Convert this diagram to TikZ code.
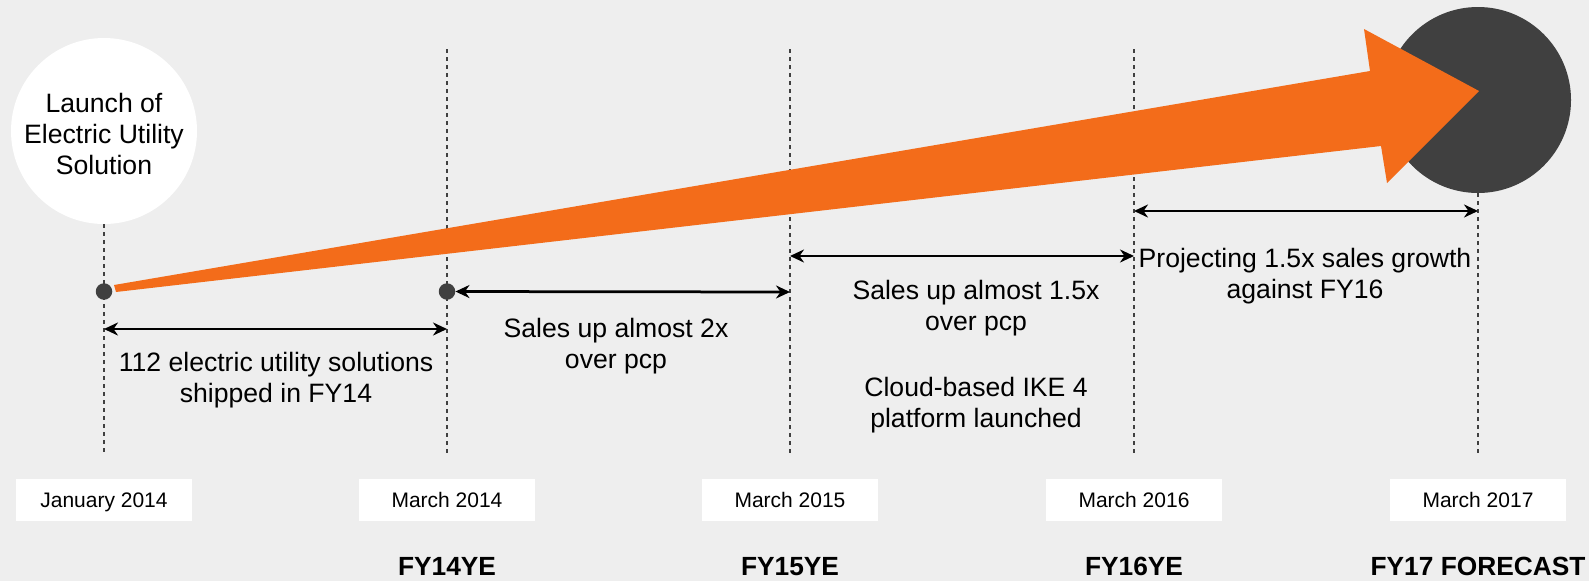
\documentclass[tikz,border=0pt]{standalone}
\usepackage{fontspec}
\setmainfont{Liberation Sans}
\usetikzlibrary{arrows.meta}

\definecolor{bggray}{HTML}{EEEEEE}
\definecolor{charcoal}{HTML}{404040}
\definecolor{fireorange}{HTML}{F36C1A}

\tikzset{
  timeline/.style={charcoal, line width=2pt, dash pattern=on 3.5pt off 4.5pt},
  span/.style={{Stealth[length=14pt,width=13pt,inset=4.5pt]}-{Stealth[length=14pt,width=13pt,inset=4.5pt]}, line width=2.75pt},
  note/.style={align=center, font=\fontsize{26.6}{31}\selectfont},
  datebox/.style={fill=white, minimum width=176pt, minimum height=42pt, inner sep=0pt, text depth=0pt, font=\fontsize{21}{25}\selectfont},
  fylabel/.style={anchor=base, font=\fontsize{26.3}{31}\selectfont\bfseries},
  dot/.style={circle, fill=charcoal, minimum size=16.5pt, inner sep=0pt},
  milestone/.style={circle, minimum size=186pt, inner sep=0pt}
}

\begin{document}
\begin{tikzpicture}[x=1pt,y=-1pt]
\useasboundingbox (0,0) rectangle (1589,581);
\fill[bggray] (0,0) rectangle (1589,581);

% start and goal
\node[milestone, fill=white] (launch) at (104,131) {};
\node[note] (launchtext) at (104,133.5) {Launch of\\Electric Utility\\Solution};
\node[milestone, fill=charcoal] (goal) at (1478,100) {};

% year-end lines
\coordinate (top1) at (447,49);
\coordinate (top2) at (790,49);
\coordinate (top3) at (1134,49);
\coordinate (bot0) at (104,453);
\coordinate (bot1) at (447,453);
\coordinate (bot2) at (790,453);
\coordinate (bot3) at (1134,453);
\coordinate (bot4) at (1478,453);
\draw[timeline] (launch.south) -- (bot0);
\draw[timeline] (top1) -- (bot1);
\draw[timeline] (top2) -- (bot2);
\draw[timeline] (top3) -- (bot3);
\draw[timeline] (goal.south) -- (bot4);

% growth arrow
\fill[fireorange] (114,285) -- (1370,71) -- (1364,29) -- (1479,91) -- (1387,183) -- (1381,146) -- (116,292) -- cycle;

\node[dot] (jan) at (104,291.5) {};
\node[dot] (fy14) at (447,291.5) {};

% spans between dates
\coordinate (s1a) at (104,329);
\coordinate (s1b) at (447,329);
\coordinate (s2b) at (790,292);
\coordinate (s3a) at (790,256);
\coordinate (s3b) at (1134,256);
\coordinate (s4a) at (1134,211);
\coordinate (s4b) at (1478,211);
\draw[span] (s1a) -- (s1b);
\draw[span] (fy14) -- (s2b);
\draw[span] (s3a) -- (s3b);
\draw[span] (s4a) -- (s4b);

\node[note] (shipped) at (276,380) {112 electric utility solutions\\shipped in FY14};
\node[note] (sales15) at (616,346) {Sales up almost 2x\\over pcp};
\node[note] (sales16) at (976,308.5) {Sales up almost 1.5x\\over pcp};
\node[note] (cloud) at (976,405) {Cloud-based IKE 4\\platform launched};
\node[note] (project) at (1305,276) {Projecting 1.5x sales growth\\against FY16};

% dates
\node[datebox] (d0) at (104,500) {January 2014};
\node[datebox] (d1) at (447,500) {March 2014};
\node[datebox] (d2) at (790,500) {March 2015};
\node[datebox] (d3) at (1134,500) {March 2016};
\node[datebox] (d4) at (1478,500) {March 2017};

\node[fylabel] (fy1) at (447,575.5) {FY14YE};
\node[fylabel] (fy2) at (790,575.5) {FY15YE};
\node[fylabel] (fy3) at (1134,575.5) {FY16YE};
\node[fylabel] (fy4) at (1478,575.5) {FY17 FORECAST};
\end{tikzpicture}
\end{document}
